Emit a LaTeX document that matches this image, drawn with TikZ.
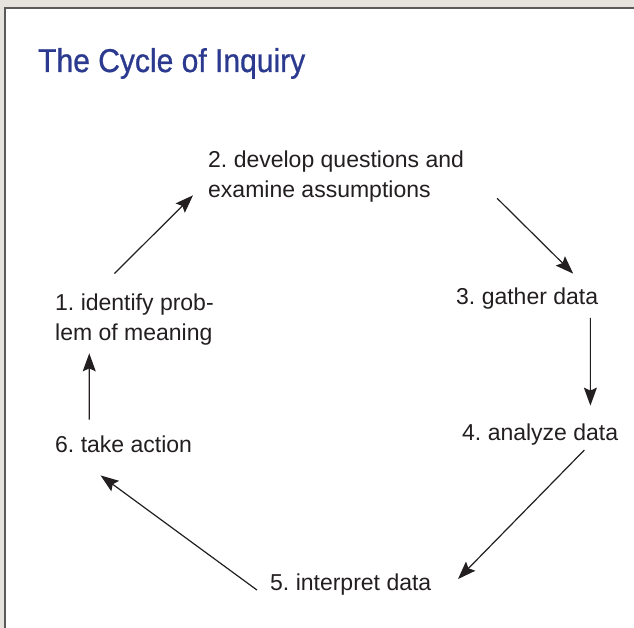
\documentclass[tikz,border=0pt]{standalone}
\usepackage{fontspec}
\setmainfont{Liberation Sans}
\newfontfamily\titlefont[FakeStretch=0.91,FakeBold=0.8]{Liberation Sans}
\usepackage{xcolor}
\definecolor{inqblue}{HTML}{2B3A8F}
\definecolor{ink}{HTML}{231F20}
\definecolor{paper}{HTML}{E6E2DE}
\definecolor{rim}{HTML}{5A5A5A}
\usetikzlibrary{arrows.meta,positioning}
\frenchspacing
\tikzset{
    stage/.style={
    inner sep=0pt,text=ink,align=left,font=\fontsize{23}{30}\selectfont
    },
    heading/.style={
    inner sep=0pt,text=inqblue,font=\titlefont\fontsize{33}{36}\selectfont
    },
  line/.style={draw=ink, line width=1.2pt, -{Stealth[length=18pt,width=13pt,inset=3pt]}}
}

\begin{document}
\begin{tikzpicture}[x=1pt,y=-1pt]
    \useasboundingbox (0,0) rectangle (634,628);
    \fill[paper] (0,0) rectangle (634,628);
    \fill[white] (5,8) rectangle (634,628);
    \draw[rim,line width=2pt] (5,628) -- (5,8) -- (634,8);

    \node[heading,anchor=base west] (title) at (38,72) {The Cycle of Inquiry};

    \node[stage,anchor=north west] (ident) at (55,293.5) {1. identify prob-\\lem of meaning};
    \node[stage,anchor=north west] (quest) at (208,150.5) {2. develop questions and\\examine assumptions};
    \node[stage,anchor=base west] (gath) at (456,304) {3. gather data};
    \node[stage,anchor=base west] (anal) at (462,440) {4. analyze data};
    \node[stage,anchor=base west] (interp) at (270,590) {5. interpret data};
    \node[stage,anchor=base west] (act) at (55,452) {6. take action};

    \begin{scope} [every path/.style=line]
      \path ([xshift=-20pt,yshift=20pt]ident.north) -- ([xshift=-15pt,yshift=7pt]quest.south west);
      \path ([xshift=33pt,yshift=4pt]quest.south east) -- ([xshift=46pt,yshift=13.5pt]gath.north);
      \path ([xshift=-8pt,yshift=-9pt]gath.south east) -- ([xshift=-28pt,yshift=17.5pt]anal.north east);
      \path ([xshift=-34pt,yshift=-5pt]anal.south east) -- ([xshift=26.5pt,yshift=5pt]interp.east);
      \path ([xshift=-13pt,yshift=-6pt]interp.west) -- ([xshift=-23pt,yshift=-23pt]act.south);
      \path ([xshift=-34.4pt,yshift=15.5pt]act.north) -- ([xshift=-45.2pt,yshift=-8pt]ident.south);
    \end{scope}
  \end{tikzpicture}
\end{document}
